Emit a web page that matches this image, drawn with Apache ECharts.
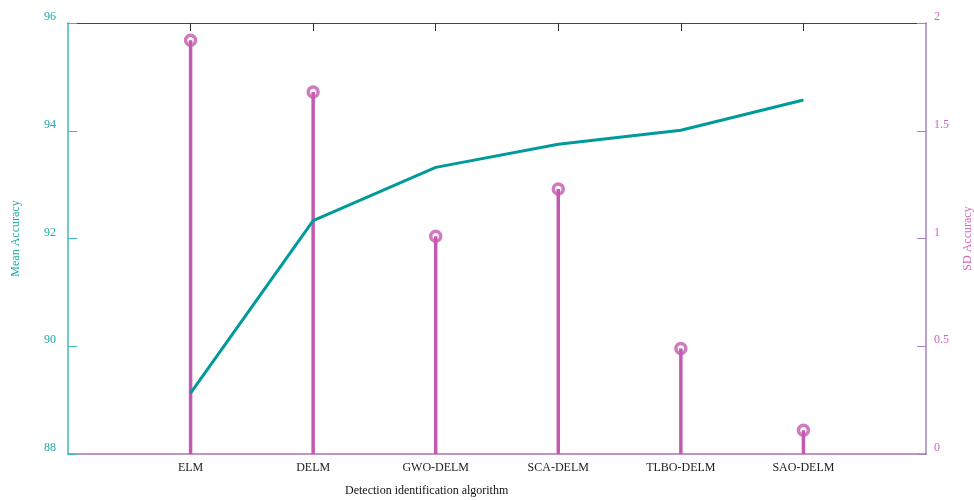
<!DOCTYPE html>
<html><head><meta charset="utf-8">
<script src="https://cdn.jsdelivr.net/npm/echarts@6/dist/echarts.min.js"></script>
<style>html,body{margin:0;padding:0;background:#fff}#c{width:974px;height:500px}</style>
</head><body><div id="c"></div>
<script>
const categories = ['', 'ELM', 'DELM', 'GWO-DELM', 'SCA-DELM', 'TLBO-DELM', 'SAO-DELM', ''];
const meanAccuracy = [null, 89.13, 92.33, 93.32, 93.75, 94.01, 94.57, null];
const sdAccuracy = [null, 1.92, 1.68, 1.01, 1.23, 0.49, 0.11, null];
const font = 'Liberation Serif';
const chart = echarts.init(document.getElementById('c'));
chart.setOption({
  animation: false,
  grid: {left: 68, right: 48, top: 23, bottom: 46, containLabel: false, outerBoundsMode: 'none'},
  xAxis: [
    {type: 'category', data: categories, boundaryGap: false, position: 'bottom',
     axisLine: {lineStyle: {color: '#b070b0', width: 1.5}}, axisTick: {show: false},
     axisLabel: {color: '#222', fontFamily: font, fontSize: 12, margin: 8},
     splitLine: {show: false}},
    {type: 'category', data: categories, boundaryGap: false, position: 'top',
     axisLine: {lineStyle: {color: '#444', width: 1}},
     axisTick: {show: true, inside: true, length: 8, lineStyle: {color: '#333'}, interval: function (i) { return i > 0 && i < categories.length - 1; }},
     axisLabel: {show: false}, splitLine: {show: false}}
  ],
  yAxis: [
    {type: 'value', min: 88, max: 96, interval: 2, position: 'left',
     name: 'Mean Accuracy', nameLocation: 'middle', nameGap: 46,
     nameTextStyle: {color: '#20a8a8', fontFamily: font, fontSize: 12},
     axisLine: {show: true, lineStyle: {color: '#40b8b8', width: 1.5}},
     axisTick: {show: true, inside: true, length: 9, lineStyle: {color: '#40b8b8'}},
     axisLabel: {color: '#20a8a8', fontFamily: font, fontSize: 12, margin: 12, verticalAlign: 'bottom'},
     splitLine: {show: false}},
    {type: 'value', min: 0, max: 2, interval: 0.5, position: 'right',
     name: 'SD Accuracy', nameLocation: 'middle', nameGap: 36,
     nameTextStyle: {color: '#d066c0', fontFamily: font, fontSize: 12},
     axisLine: {show: true, lineStyle: {color: '#a585c0', width: 1.5}},
     axisTick: {show: true, inside: true, length: 9, lineStyle: {color: '#a585c0'}},
     axisLabel: {color: '#d066c0', fontFamily: font, fontSize: 12, margin: 8, verticalAlign: 'bottom'},
     splitLine: {show: false}}
  ],
  graphic: [{type: 'text', left: 345, top: 485,
    style: {text: 'Detection identification algorithm', fill: '#111', font: '12px "Liberation Serif"'}}],
  series: [
    {type: 'line', yAxisIndex: 0, data: meanAccuracy, symbol: 'none', connectNulls: false,
     lineStyle: {color: '#009a9a', width: 3}, z: 3},
    {type: 'bar', yAxisIndex: 1, data: sdAccuracy, barWidth: 3.5,
     itemStyle: {color: '#c45ab0'}, z: 2},
    {type: 'scatter', yAxisIndex: 1, data: sdAccuracy, symbol: 'circle', symbolSize: 10,
     itemStyle: {color: 'rgba(255,255,255,0)', borderColor: '#c45ab0', borderWidth: 3.5}, z: 4}
  ]
});
</script></body></html>
